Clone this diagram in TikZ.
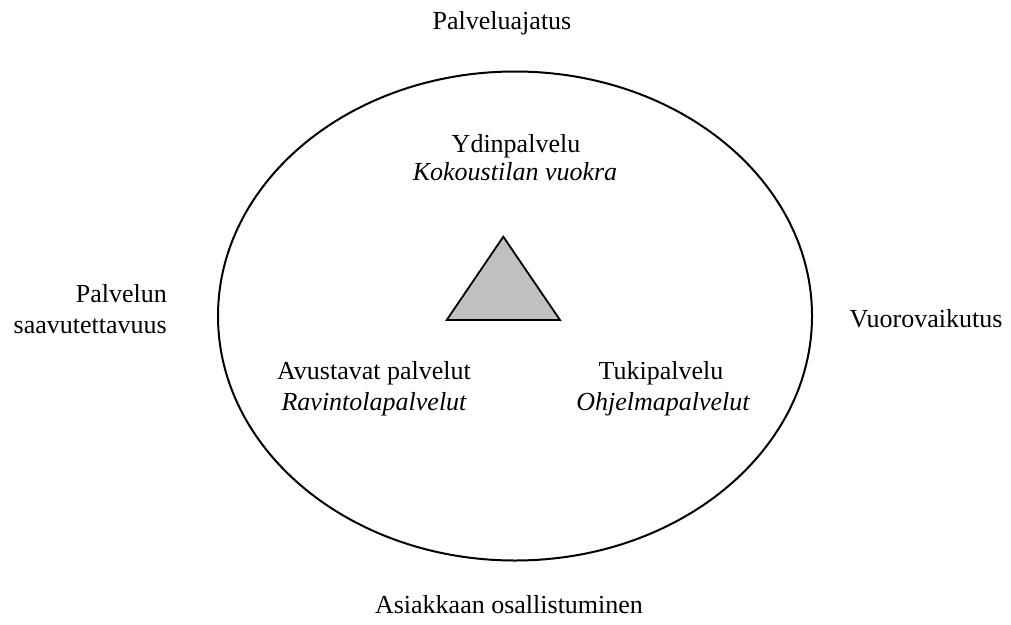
\documentclass[tikz,border=0pt]{standalone}
\usepackage{fontspec}
\setmainfont{Liberation Serif}
\begin{document}
\begin{tikzpicture}[x=1pt,y=-1pt,
  lbl/.style={inner sep=0pt,anchor=base,font=\fontsize{26}{31}\selectfont},
  lblr/.style={lbl,anchor=base east},
  itl/.style={lbl,font=\fontsize{26}{31}\selectfont\itshape}]
\useasboundingbox (0,0) rectangle (1011,624);
\draw[line width=2pt] (515,316) ellipse [x radius=297, y radius=244.5];
\draw[line width=1.8pt, fill={rgb,255:red,192;green,192;blue,192}, line join=miter]
  (503.3,236.7) -- (446.7,320) -- (560,320) -- cycle;
\node[lbl] (top) at (502,29) {Palveluajatus};
\node[lbl] (core) at (516,152.5) {Ydinpalvelu};
\node[itl] (coreex) at (515,180) {Kokoustilan vuokra};
\node[lblr] (acc1) at (167,302) {Palvelun};
\node[lblr] (acc2) at (167,333) {saavutettavuus};
\node[lbl] (aux) at (374,379) {Avustavat palvelut};
\node[itl] (auxex) at (374,410) {Ravintolapalvelut};
\node[lbl] (sup) at (661,379) {Tukipalvelu};
\node[itl] (supex) at (663,410) {Ohjelmapalvelut};
\node[lbl] (inter) at (926,327) {Vuorovaikutus};
\node[lbl] (part) at (509,613) {Asiakkaan osallistuminen};
\end{tikzpicture}
\end{document}
